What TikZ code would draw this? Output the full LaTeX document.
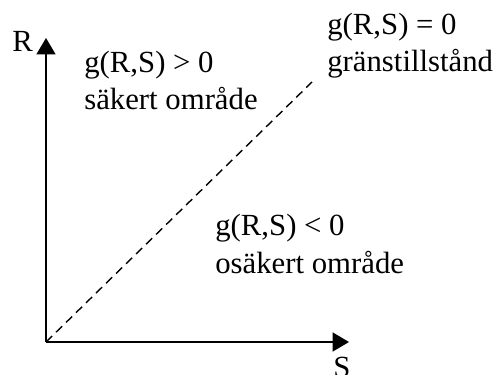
\documentclass[tikz,border=0pt]{standalone}
\usepackage{fontspec}
\setmainfont{Liberation Serif}
\usetikzlibrary{arrows.meta,positioning}

\begin{document}
\begin{tikzpicture}[
    x=0.02cm, y=-0.02cm,
    lbl/.style={inner sep=0pt, font=\fontsize{17.5}{21.5}\selectfont},
    region/.style={lbl, align=left, anchor=base west},
    axis/.style={-{Triangle[length=0.33cm, width=0.38cm]}, line width=1.1pt},
    limitline/.style={dashed, dash pattern=on 0.17cm off 0.11cm, line width=0.8pt},
]
  \useasboundingbox (0,0) rectangle (502,374);

  % Axes
  \coordinate (O) at (46,342);
  \coordinate (Rtip) at (46,38);
  \coordinate (Stip) at (349,342);
  \coordinate (Lend) at (312,82);
  \draw[axis] (O) -- (Rtip);
  \draw[axis] (O) -- (Stip);
  \node[lbl, anchor=base west] (Rlab) at (12,52) {R};
  \node[lbl, anchor=base west] (Slab) at (333,377) {S};

  % Limit state line
  \draw[limitline] (O) -- (Lend);

  % Regions (anchored at the baseline of the second line)
  \node[region] (safe) at (84,110) {g(R,S) > 0\\säkert område};
  \node[region] (limit) at (327,72) {g(R,S) = 0\\gränstillstånd};
  \node[region] (unsafe) at (215,273) {g(R,S) < 0\\osäkert område};
\end{tikzpicture}
\end{document}
